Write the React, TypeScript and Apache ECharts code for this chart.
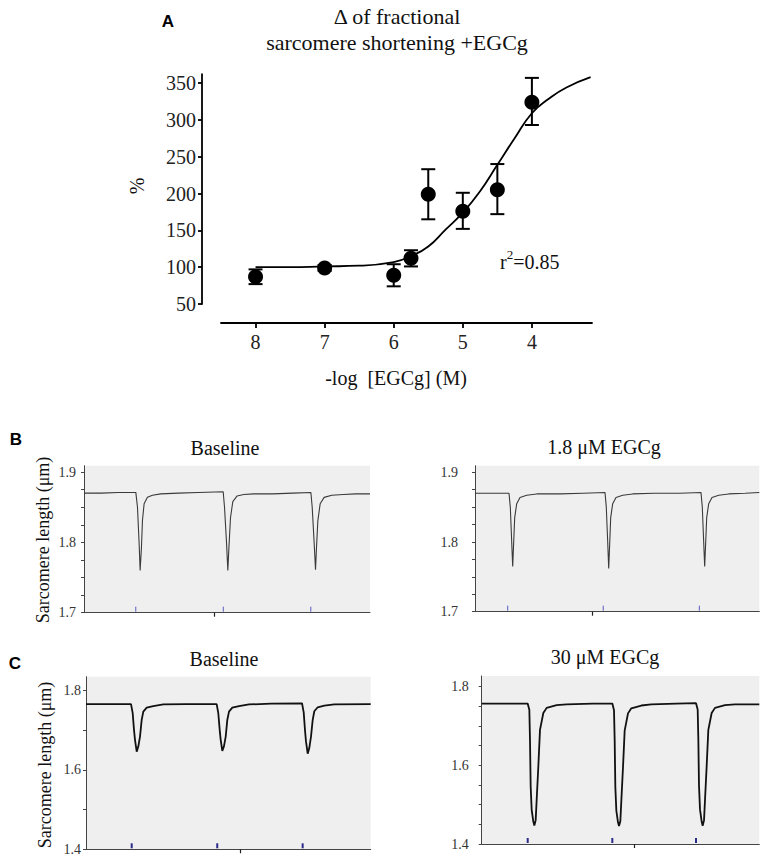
import React, { useEffect, useRef } from 'react';
import * as echarts from 'echarts';

const SERIF = 'Liberation Serif, Times New Roman, serif';
const SANS = 'Liberation Sans, Arial, sans-serif';

// ---------- Panel A data ----------
const doseX = [8, 7, 6, 5.75, 5.5, 5, 4.5, 4];
const doseY = [87, 99, 89, 112, 199, 176, 205, 324];
const errLow = [77, 95, 74, 101, 165, 152, 172, 293];
const errHigh = [97, 103, 104, 123, 233, 201, 240, 357];
const fitX = [8, 7.5, 7, 6.5, 6, 5.75, 5.5, 5.25, 5, 4.75, 4.5, 4.25, 4, 3.75, 3.5, 3.15];
const fitY = [100, 100, 101, 102, 107, 115, 128, 151, 174, 203, 239, 275, 309, 329, 344, 358];
const aXTicks = [8, 7, 6, 5, 4];
const aYTicks = [50, 100, 150, 200, 250, 300, 350];

// ---------- Panel B / C traces (time in arbitrary units 0..100, sarcomere length in µm) ----------
const traceBBaseline = [
  [0, 1.870], [6, 1.870], [12, 1.871], [18.12, 1.871], [18.70, 1.850], [19.28, 1.798], [19.63, 1.760],
  [20.09, 1.793], [20.44, 1.831], [21.02, 1.855], [22.18, 1.864], [23.93, 1.867], [26.83, 1.869],
  [33, 1.870], [40, 1.871], [48.67, 1.872], [49.13, 1.850], [49.83, 1.800], [50.29, 1.760], [50.64, 1.790],
  [51.22, 1.835], [52.03, 1.858], [53.54, 1.866], [55.86, 1.868], [59.35, 1.869], [66, 1.869], [73, 1.870],
  [79.33, 1.871], [79.79, 1.850], [80.49, 1.798], [80.95, 1.761], [81.3, 1.793], [81.77, 1.831],
  [82.58, 1.855], [83.97, 1.864], [86.64, 1.867], [90.71, 1.868], [95, 1.869], [100, 1.869],
];
const traceB18 = [
  [0, 1.870], [6, 1.870], [11.96, 1.870], [12.42, 1.850], [12.91, 1.800], [13.26, 1.765], [13.61, 1.800],
  [13.96, 1.835], [14.67, 1.855], [15.83, 1.864], [18.18, 1.867], [21.70, 1.869], [30, 1.869], [38, 1.870],
  [45.73, 1.871], [46.18, 1.850], [46.68, 1.800], [47.03, 1.762], [47.38, 1.798], [47.73, 1.835],
  [48.43, 1.855], [49.60, 1.864], [51.95, 1.867], [55.47, 1.869], [63, 1.870], [72, 1.870],
  [79.49, 1.871], [79.95, 1.850], [80.44, 1.800], [80.79, 1.765], [81.15, 1.800], [81.50, 1.835],
  [82.20, 1.855], [83.36, 1.864], [85.72, 1.867], [89.24, 1.869], [95, 1.870], [100, 1.871],
];
const traceCBaseline = [
  [0, 1.766], [8, 1.766], [15.81, 1.766], [16.40, 1.743], [16.86, 1.701], [17.21, 1.676], [17.81, 1.646],
  [18.37, 1.659], [18.97, 1.684], [19.56, 1.726], [20.13, 1.747], [21.32, 1.757], [23.64, 1.761],
  [27.15, 1.765], [35, 1.766], [45.9, 1.766], [46.47, 1.743], [46.96, 1.701], [47.31, 1.676],
  [47.88, 1.648], [48.47, 1.660], [49.07, 1.684], [49.63, 1.726], [50.23, 1.747], [51.39, 1.757],
  [53.74, 1.761], [57.25, 1.765], [65, 1.767], [75.87, 1.768], [76.47, 1.745], [76.92, 1.700],
  [77.27, 1.672], [77.87, 1.641], [78.43, 1.655], [79.03, 1.684], [79.63, 1.726], [80.19, 1.748],
  [81.38, 1.758], [83.7, 1.762], [87.21, 1.765], [100, 1.766],
];
const traceC30 = [
  [0, 1.757], [8, 1.757], [16.56, 1.757], [17.16, 1.741], [17.4, 1.664], [17.64, 1.546], [18.0, 1.487],
  [18.6, 1.457], [18.96, 1.447], [19.44, 1.46], [19.8, 1.512], [20.4, 1.597], [21.0, 1.69], [22.2, 1.733],
  [23.4, 1.746], [27.0, 1.753], [30.6, 1.755], [40, 1.757], [47.06, 1.757], [47.66, 1.740], [47.9, 1.665],
  [48.14, 1.545], [48.5, 1.485], [49.1, 1.455], [49.46, 1.446], [49.94, 1.458], [50.3, 1.510],
  [50.9, 1.595], [51.5, 1.688], [52.7, 1.732], [53.9, 1.745], [57.5, 1.752], [61.1, 1.755], [70, 1.757],
  [77.2, 1.758], [77.8, 1.742], [78.04, 1.666], [78.28, 1.548], [78.64, 1.488], [79.24, 1.457],
  [79.6, 1.446], [80.08, 1.46], [80.44, 1.512], [81.04, 1.598], [81.64, 1.69], [82.84, 1.733],
  [84.04, 1.746], [87.64, 1.753], [91.24, 1.755], [100, 1.755],
];
// stimulus markers (time units)
const stimBBaseline = [18.1, 48.7, 79.3];
const stimB18 = [11.5, 45.1, 78.9];
const stimCBaseline = [16.05, 46.1, 76.1];
const stimC30 = [16.57, 47.05, 77.2];
// x-axis time tick
const timeTickBBaseline = [45.4];
const timeTickB18 = [41.4];
const timeTickCBaseline = [54.3];
const timeTickC30 = [54.9];
// y ticks
const yTicksB = [1.7, 1.725, 1.75, 1.775, 1.8, 1.825, 1.85, 1.875, 1.9];
const yLabelsB = [1.7, 1.8, 1.9];
const yTicksCBaseline = [1.4, 1.5, 1.6, 1.7, 1.8];
const yTicksC30 = [1.4, 1.45, 1.5, 1.55, 1.6, 1.65, 1.7, 1.75, 1.8];
const yLabelsC = [1.4, 1.6, 1.8];

const panelTitles = ['Baseline', '1.8 μM EGCg', 'Baseline', '30 μM EGCg'];

function buildOption() {
  const grids: any[] = [
    { left: 221, top: 74.2, width: 371, height: 229.8, containLabel: false },
    { left: 84, top: 465.7, width: 286, height: 147, show: true, backgroundColor: '#efefef', borderWidth: 0 },
    { left: 475, top: 465.7, width: 284.3, height: 146, show: true, backgroundColor: '#efefef', borderWidth: 0 },
    { left: 86, top: 676.7, width: 284.7, height: 172.6, show: true, backgroundColor: '#efefef', borderWidth: 0 },
    { left: 481.7, top: 676, width: 277.6, height: 168, show: true, backgroundColor: '#efefef', borderWidth: 0 },
  ];

  const xAxes: any[] = [
    {
      gridIndex: 0, type: 'value', inverse: true, min: 3.13, max: 8.5, offset: 19,
      axisLine: { onZero: false, lineStyle: { color: '#000', width: 1.8 } },
      axisTick: { customValues: aXTicks, length: 5, lineStyle: { color: '#000', width: 1.8 } },
      axisLabel: { customValues: aXTicks, fontFamily: SERIF, fontSize: 20, color: '#222', margin: 9 },
      splitLine: { show: false },
    },
  ];
  const yAxes: any[] = [
    {
      gridIndex: 0, type: 'value', min: 50, max: 362, offset: 19,
      axisLine: { show: true, onZero: false, lineStyle: { color: '#000', width: 1.8 } },
      axisTick: { show: true, customValues: aYTicks, length: 4, lineStyle: { color: '#000', width: 1.8 } },
      axisLabel: { customValues: aYTicks, fontFamily: SERIF, fontSize: 20, color: '#222', margin: 6 },
      splitLine: { show: false },
    },
  ];

  const panels = [
    { yMin: 1.7, yMax: 1.909, ticks: yTicksB, labels: yLabelsB, margin: 8, tt: timeTickBBaseline },
    { yMin: 1.7, yMax: 1.9095, ticks: yTicksB, labels: yLabelsB, margin: 17, tt: timeTickB18 },
    { yMin: 1.4, yMax: 1.835, ticks: yTicksCBaseline, labels: yLabelsC, margin: 5, tt: timeTickCBaseline },
    { yMin: 1.4, yMax: 1.827, ticks: yTicksC30, labels: yLabelsC, margin: 13, tt: timeTickC30 },
  ];
  panels.forEach((p, i) => {
    xAxes.push({
      gridIndex: i + 1, type: 'value', min: 0, max: 100,
      axisLine: { onZero: false, lineStyle: { color: '#444', width: 1 } },
      axisTick: { customValues: p.tt, length: 4, lineStyle: { color: '#222', width: 1.2 } },
      axisLabel: { show: false },
      splitLine: { show: false },
    });
    yAxes.push({
      gridIndex: i + 1, type: 'value', min: p.yMin, max: p.yMax,
      axisLine: { show: true, onZero: false, lineStyle: { color: '#444', width: 1 } },
      axisTick: { show: true, customValues: p.ticks, length: 3, lineStyle: { color: '#444', width: 1 } },
      axisLabel: {
        customValues: p.labels, fontFamily: SERIF, fontSize: 14, color: '#333', margin: p.margin,
        formatter: (v: number) => v.toFixed(1),
      },
      splitLine: { show: false },
    });
  });

  const errRender = (params: any, api: any) => {
    const x = api.value(0);
    const lo = api.coord([x, api.value(1)]);
    const hi = api.coord([x, api.value(2)]);
    const w = 7;
    const st = { stroke: '#000', lineWidth: 2 };
    return {
      type: 'group',
      children: [
        { type: 'line', shape: { x1: lo[0], y1: lo[1], x2: hi[0], y2: hi[1] }, style: st },
        { type: 'line', shape: { x1: hi[0] - w, y1: hi[1], x2: hi[0] + w, y2: hi[1] }, style: st },
        { type: 'line', shape: { x1: lo[0] - w, y1: lo[1], x2: lo[0] + w, y2: lo[1] }, style: st },
      ],
    };
  };

  const stimRender = (color: string, width: number) => (params: any, api: any) => {
    const p = api.coord([api.value(0), api.value(1)]);
    return {
      type: 'line',
      shape: { x1: p[0], y1: p[1] - 1, x2: p[0], y2: p[1] - 6 },
      style: { stroke: color, lineWidth: width },
    };
  };

  const traces = [traceBBaseline, traceB18, traceCBaseline, traceC30];
  const stims = [stimBBaseline, stimB18, stimCBaseline, stimC30];
  const traceStyles = [
    { color: '#3a3a3a', width: 1.1 },
    { color: '#3a3a3a', width: 1.1 },
    { color: '#111', width: 1.8 },
    { color: '#111', width: 1.8 },
  ];
  const stimStyles = [
    { color: '#5a5ac0', width: 1 },
    { color: '#5a5ac0', width: 1 },
    { color: '#2b2b8a', width: 2 },
    { color: '#2b2b8a', width: 2 },
  ];

  const series: any[] = [
    {
      type: 'line', xAxisIndex: 0, yAxisIndex: 0, smooth: true, showSymbol: false,
      data: fitX.map((x, i) => [x, fitY[i]]),
      lineStyle: { color: '#000', width: 1.8 }, z: 2,
    },
    {
      type: 'custom', xAxisIndex: 0, yAxisIndex: 0,
      data: doseX.map((x, i) => [x, errLow[i], errHigh[i]]),
      encode: { x: 0, y: [1, 2] }, renderItem: errRender, z: 3,
    },
    {
      type: 'scatter', xAxisIndex: 0, yAxisIndex: 0, symbolSize: 15,
      data: doseX.map((x, i) => [x, doseY[i]]),
      itemStyle: { color: '#000', opacity: 1 }, z: 4,
    },
  ];
  traces.forEach((tr, i) => {
    series.push({
      type: 'line', xAxisIndex: i + 1, yAxisIndex: i + 1, showSymbol: false, smooth: false,
      data: tr, lineStyle: traceStyles[i], z: 2,
    });
    series.push({
      type: 'custom', xAxisIndex: i + 1, yAxisIndex: i + 1,
      data: stims[i].map((t) => [t, panels[i].yMin]),
      encode: { x: 0, y: 1 },
      renderItem: stimRender(stimStyles[i].color, stimStyles[i].width), z: 3,
    });
  });

  const txt = (text: string, x: number, y: number, opts: any = {}) => ({
    type: 'text', x, y, rotation: opts.rotation || 0,
    style: {
      text, fontFamily: opts.fontFamily || SERIF, fontSize: opts.fontSize || 20,
      fontWeight: opts.fontWeight || 'normal', fill: opts.fill || '#111',
      textAlign: opts.align || 'center', textVerticalAlign: 'middle',
    },
  });

  const graphic: any[] = [
    txt('A', 168, 21, { fontFamily: SANS, fontWeight: 'bold', fontSize: 17, fill: '#000' }),
    txt('Δ of fractional', 397, 16, { fontSize: 22 }),
    txt('sarcomere shortening +EGCg', 397, 42, { fontSize: 22 }),
    txt('%', 137, 186, { rotation: Math.PI / 2, fontSize: 20 }),
    txt('-log  [EGCg] (M)', 396, 378, { fontSize: 20 }),
    {
      type: 'text', x: 500, y: 260,
      style: {
        text: '{r|r}{s|2}{r|=0.85}',
        textAlign: 'left', textVerticalAlign: 'middle',
        rich: {
          r: { fontFamily: SERIF, fontSize: 20, fill: '#111', lineHeight: 24, verticalAlign: 'bottom' },
          s: { fontFamily: SERIF, fontSize: 13, fill: '#111', lineHeight: 14, verticalAlign: 'top' },
        },
      },
    },
    txt('B', 16, 439, { fontFamily: SANS, fontWeight: 'bold', fontSize: 17, fill: '#000' }),
    txt('C', 15, 663, { fontFamily: SANS, fontWeight: 'bold', fontSize: 17, fill: '#000' }),
    txt(panelTitles[0], 225, 448, { fontSize: 20 }),
    txt(panelTitles[1], 604, 447, { fontSize: 20 }),
    txt(panelTitles[2], 224, 659, { fontSize: 20 }),
    txt(panelTitles[3], 605, 657, { fontSize: 20 }),
    txt('Sarcomere length (μm)', 43, 540, { rotation: Math.PI / 2, fontSize: 18 }),
    txt('Sarcomere length (μm)', 45, 765, { rotation: Math.PI / 2, fontSize: 18 }),
  ];

  return {
    animation: false,
    backgroundColor: '#ffffff',
    grid: grids,
    xAxis: xAxes,
    yAxis: yAxes,
    series,
    graphic,
  };
}

export default function App() {
  const ref = useRef<HTMLDivElement>(null);
  useEffect(() => {
    document.body.style.margin = '0';
    const chart = echarts.init(ref.current as HTMLDivElement, null, { renderer: 'svg' });
    chart.setOption(buildOption() as any);
    return () => chart.dispose();
  }, []);
  return <div ref={ref} style={{ width: 763, height: 861 }} />;
}
